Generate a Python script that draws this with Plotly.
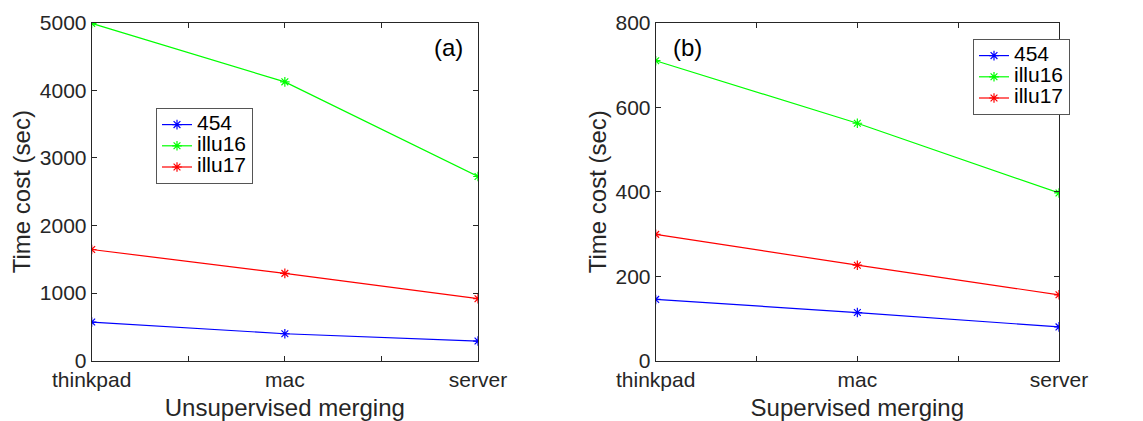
import plotly.graph_objects as go

# Machines on the x axis and run times in seconds
machines = ["thinkpad", "mac", "server"]
machine_pos = [1, 2, 3]

# (a) Unsupervised merging
unsup_454 = [572, 399, 291]
unsup_illu16 = [4990, 4125, 2725]
unsup_illu17 = [1645, 1292, 917]

# (b) Supervised merging
sup_454 = [145, 114, 80]
sup_illu16 = [710, 562, 397]
sup_illu17 = [299, 226, 156]

series_names = ["454", "illu16", "illu17"]
series_colors = ["#0000FF", "#00FF00", "#FF0000"]

FONT = "Liberation Sans, Arial, Helvetica, sans-serif"
TEXT = "#262626"
W, H = 1143, 421

fig = go.Figure()

panels = [
    ("x", "y", "legend", [unsup_454, unsup_illu16, unsup_illu17]),
    ("x2", "y2", "legend2", [sup_454, sup_illu16, sup_illu17]),
]
for xa, ya, lg, series in panels:
    for name, color, vals in zip(series_names, series_colors, series):
        fig.add_trace(go.Scatter(
            x=machine_pos, y=vals, xaxis=xa, yaxis=ya, legend=lg,
            name=f'<span style="font-size:21px">{name}</span>',
            mode="lines+markers",
            line=dict(color=color, width=1.2),
            marker=dict(symbol="asterisk-open", size=8,
                        line=dict(color=color, width=1.2)),
        ))

# Tick positions: labelled at the machines, unlabelled halfway between
tick_vals = [1, 1.5, 2, 2.5, 3]
tick_text = [machines[0], "", machines[1], "", machines[2]]

axis_common = dict(
    showline=True, linecolor=TEXT, linewidth=1, mirror="ticks",
    ticks="inside", ticklen=5, tickcolor=TEXT, tickwidth=1,
    showgrid=False, zeroline=False, automargin=False,
    tickfont=dict(family=FONT, size=21, color=TEXT),
    title_font=dict(family=FONT, size=24, color=TEXT),
)

y_top = 1 - 22.7 / H
y_bot = 1 - 360.7 / H

fig.update_layout(
    width=W, height=H,
    margin=dict(l=0, r=0, t=0, b=0),
    paper_bgcolor="white", plot_bgcolor="white",
    font=dict(family=FONT, color=TEXT),
    xaxis=dict(domain=[91.7 / W, 478 / W], range=[1, 3],
               tickvals=tick_vals, ticktext=tick_text,
               title=dict(text="Unsupervised merging"),
               anchor="y", **axis_common),
    yaxis=dict(domain=[y_bot, y_top], range=[0, 5000], dtick=1000,
               title=dict(text="Time cost (sec)", standoff=2),
               anchor="x", **axis_common),
    xaxis2=dict(domain=[655.7 / W, 1059 / W], range=[1, 3],
                tickvals=tick_vals, ticktext=tick_text,
                title=dict(text="Supervised merging"),
                anchor="y2", **axis_common),
    yaxis2=dict(domain=[y_bot, y_top], range=[0, 800], dtick=200,
                title=dict(text="Time cost (sec)", standoff=2),
                anchor="x2", **axis_common),
    legend=dict(x=156 / W, y=1 - 108 / H, xanchor="left", yanchor="top",
                bgcolor="white", bordercolor="#555555", borderwidth=1,
                font=dict(family=FONT, size=14, color="black"),
                tracegroupgap=0),
    legend2=dict(x=973 / W, y=1 - 39 / H, xanchor="left", yanchor="top",
                 bgcolor="white", bordercolor="#555555", borderwidth=1,
                 font=dict(family=FONT, size=14, color="black"),
                 tracegroupgap=0),
    annotations=[
        dict(text="(a)", x=448 / W, y=1 - 47 / H, xref="paper", yref="paper",
             xanchor="center", yanchor="middle", showarrow=False,
             font=dict(family=FONT, size=24, color="black")),
        dict(text="(b)", x=687 / W, y=1 - 47 / H, xref="paper", yref="paper",
             xanchor="center", yanchor="middle", showarrow=False,
             font=dict(family=FONT, size=24, color="black")),
    ],
)

fig.write_html("out.html")
